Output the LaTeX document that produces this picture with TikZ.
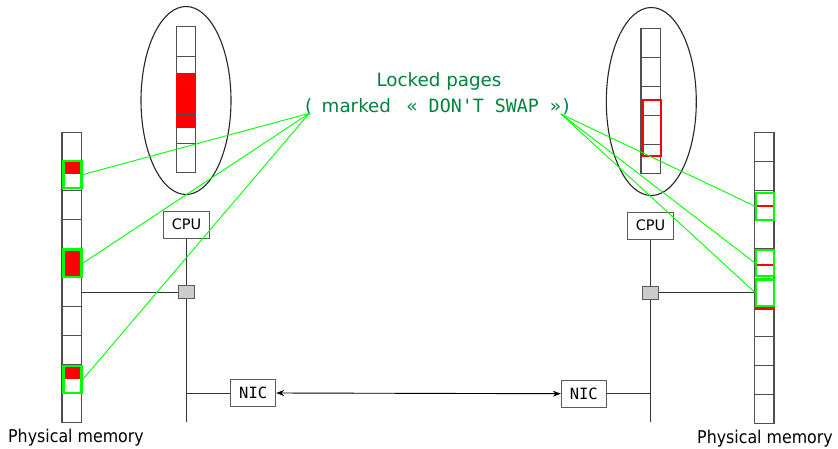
\documentclass[tikz,border=0pt]{standalone}
\usepackage{fontspec}
\setmainfont{DejaVu Sans}
\newfontfamily\monof{DejaVu Sans Mono}
\newfontfamily\condf{DejaVu Sans Condensed}
\usetikzlibrary{arrows.meta,shapes.geometric}
\definecolor{txtgreen}{RGB}{0,130,60}
\definecolor{lgreen}{RGB}{0,255,0}
\definecolor{gridgray}{RGB}{80,80,80}
\definecolor{boxgray}{RGB}{90,90,90}
\definecolor{sqfill}{RGB}{204,204,204}
\begin{document}
\begin{tikzpicture}[x=1pt,y=-1pt,
  grid/.style={draw=gridgray, line width=1pt},
  memcol/.style={draw=gridgray, line width=1.2pt, fill=white, inner sep=0pt, minimum width=19.3pt},
  gbox/.style={draw=lgreen, line width=2.2pt, inner sep=0pt, minimum width=18pt},
  glink/.style={draw=lgreen, line width=0.9pt},
  redline/.style={draw=red, line width=2pt},
  vm/.style={draw=black!85, line width=1.1pt, ellipse, inner sep=0pt, minimum width=90pt, minimum height=188pt},
  hwbox/.style={draw=boxgray, line width=1pt, fill=white, inner sep=0pt},
  bus/.style={draw=black!80, line width=1pt},
  sq/.style={draw=boxgray, line width=1pt, fill=sqfill, inner sep=0pt, minimum width=16pt, minimum height=13.4pt},
  lbl/.style={text=txtgreen, inner sep=0pt},
  pmem/.style={inner sep=0pt, font=\condf\fontsize{17.6}{20}\selectfont}
]
\useasboundingbox (0,0) rectangle (838,448);

% ---------- left physical memory ----------
\node[memcol, minimum height=290.4pt] (memL) at (71.65,277.5) {};
\fill[red] (62,160.7) rectangle (81.3,174.3);
\fill[red] (62,248.3) rectangle (81.3,277.3);
\fill[red] (62,366) rectangle (81.3,378.7);
\foreach \k in {1,...,9} \draw[grid] (62,{132.3+29.04*\k}) -- (81.3,{132.3+29.04*\k});
\node[gbox, minimum height=27.1pt] (gL1) at (72.5,174.65) {};
\node[gbox, minimum height=27.8pt] (gL2) at (72.5,263.3) {};
\node[gbox, minimum height=27.1pt] (gL3) at (72.5,379.65) {};

% ---------- right physical memory ----------
\node[memcol, minimum height=290.6pt] (memR) at (764.3,278) {};
\foreach \k in {1,...,9} \draw[grid] (754.3,{132.7+29.06*\k}) -- (774.3,{132.7+29.06*\k});
\draw[redline] (756,206) -- (774,206);
\draw[redline] (756,264.7) -- (774,264.7);
\draw[redline] (755,308.7) -- (775,308.7);
\node[gbox, minimum width=17.8pt, minimum height=26.8pt] (gR1) at (765,206.2) {};
\node[gbox, minimum width=17.8pt, minimum height=26.4pt] (gR2) at (765,263) {};
\node[gbox, minimum width=17.8pt, minimum height=26.2pt] (gR3) at (765,292.5) {};

% ---------- left virtual memory ----------
\node[vm] (ellL) at (186,100.5) {};
\node[memcol, minimum height=145.6pt] (vcolL) at (185.85,99.5) {};
\fill[red] (176,72.7) rectangle (195.7,128.3);
\draw[grid] (176,56) -- (195.7,56);
\draw[grid] (176,85.3) -- (195.7,85.3);
\draw[grid] (176,114.3) -- (195.7,114.3);
\draw[grid] (176,143.3) -- (195.7,143.3);

% ---------- right virtual memory ----------
\node[vm] (ellR) at (651.3,101.5) {};
\node[memcol, minimum height=145pt] (vcolR) at (650.65,100.8) {};
\foreach \yy in {57.3,86.3,115.3,144.3} \draw[grid] (641,\yy) -- (660.3,\yy);
\draw[redline] (643.3,100) rectangle (661.3,155.7);

% ---------- hardware ----------
\node[hwbox, minimum width=45.7pt, minimum height=27.3pt, font=\fontsize{14.5}{16}\selectfont] (cpuL) at (186.5,224.7) {CPU};
\node[hwbox, minimum width=45.3pt, minimum height=27.3pt, font=\fontsize{14.5}{16}\selectfont] (cpuR) at (650.5,225.7) {CPU};
\coordinate (busLend) at (186.5,422.3);
\coordinate (busRend) at (650.5,422.3);
\draw[bus] (cpuL.south) -- (busLend);
\draw[bus] (cpuR.south) -- (busRend);
\node[sq] (sqL) at (186,292) {};
\node[sq] (sqR) at (650.5,292.7) {};
\draw[bus] (memL.east |- sqL) -- (sqL.west);
\draw[bus] (sqR.east) -- (memR.west |- sqR);

\node[hwbox, minimum width=45pt, minimum height=27.4pt, font=\monof\fontsize{15.5}{17}\selectfont] (nicL) at (253.2,393) {NIC};
\node[hwbox, minimum width=45pt, minimum height=27.3pt, font=\monof\fontsize{15.5}{17}\selectfont] (nicR) at (583.8,393.7) {NIC};
\draw[bus] (nicL.west) -- (nicL.west -| busLend);
\draw[bus] (nicR.east) -- (nicR.east -| busRend);
\draw[black, line width=0.9pt, {Stealth[length=8pt,width=6pt]}-{Stealth[length=8pt,width=6pt]}] (nicL.east) -- (nicR.west);

% ---------- label ----------
\node[lbl, anchor=base, font=\fontsize{18.3}{20}\selectfont] (lock1) at (439,86.7) {Locked pages};
\node[lbl, anchor=base west, font=\fontsize{18.3}{20}\selectfont] (lockp) at (305,112.3) {(};
\node[lbl, anchor=base west, font=\fontsize{18.3}{20}\selectfont] (lockm) at (321.5,112.3) {marked};
\node[lbl, anchor=base west, font=\monof\fontsize{18.3}{20}\selectfont] (lockd) at (406.5,112.3) {« DON'T SWAP »)};
\coordinate (lockL) at (309.3,113.3);
\coordinate (lockR) at (561,114);

\draw[glink] (lockL) -- (gL1.east);
\draw[glink] (lockL) -- (gL2.east);
\draw[glink] (lockL) -- (gL3.east);
\draw[glink] (lockR) -- (gR1.west);
\draw[glink] (lockR) -- (gR2.west);
\draw[glink] (lockR) -- (gR3.west);

% ---------- bottom labels ----------
\node[pmem, anchor=base west] (pmL) at (8,442) {Physical memory};
\node[pmem, anchor=base east] (pmR) at (833,443) {Physical memory};
\end{tikzpicture}
\end{document}
